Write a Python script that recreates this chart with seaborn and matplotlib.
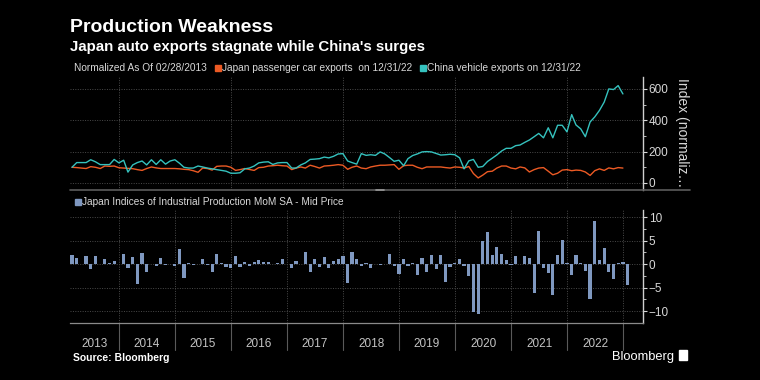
import matplotlib
matplotlib.use("Agg")
import matplotlib.pyplot as plt
import matplotlib.transforms as mtransforms
from matplotlib.patches import Rectangle
from matplotlib.lines import Line2D
import numpy as np
import pandas as pd
import seaborn as sns

# --- data ---
# month-end points, Feb 2013 .. Dec 2022, normalized to 100 at 02/28/2013
japan_cars = [100, 98, 95, 92, 104, 100, 92, 108, 106, 108, 97, 95, 93, 91, 85, 80, 92, 102, 96, 92,
              92, 92, 92, 90, 87, 85, 78, 68, 95, 92, 82, 106, 108, 108, 100, 80, 85, 92, 86, 80,
              98, 100, 108, 110, 113, 110, 108, 85, 95, 102, 95, 113, 105, 95, 108, 110, 113, 117, 113, 87,
              100, 108, 95, 91, 102, 108, 113, 113, 115, 117, 87, 110, 113, 113, 100, 91, 102, 102, 102, 102,
              98, 95, 102, 100, 95, 105, 60, 32, 50, 72, 75, 95, 108, 108, 95, 90, 102, 96, 70, 85,
              95, 98, 75, 52, 62, 82, 85, 78, 82, 80, 70, 48, 78, 90, 80, 96, 90, 98, 95]
china_vehicles = [100, 130, 130, 130, 148, 135, 117, 117, 117, 150, 128, 145, 69, 115, 130, 140, 115, 148, 118, 148,
                  120, 140, 148, 125, 100, 95, 95, 108, 102, 95, 90, 85, 80, 75, 62, 62, 65, 90, 95, 108,
                  128, 133, 135, 118, 128, 130, 130, 95, 95, 115, 128, 150, 152, 155, 165, 160, 170, 185, 187, 140,
                  130, 120, 187, 176, 180, 176, 198, 185, 162, 138, 145, 110, 155, 175, 185, 198, 200, 198, 188, 178,
                  180, 183, 180, 160, 90, 141, 150, 100, 105, 137, 158, 179, 204, 221, 221, 238, 242, 259, 274, 295,
                  316, 288, 352, 288, 368, 368, 326, 436, 370, 345, 295, 389, 421, 463, 516, 600, 596, 621, 568]
# Japan industrial production MoM %, Feb 2013 .. Jan 2023
japan_ip_mom = [1.9, 1.2, 0.1, 1.7, -1.1, 1.7, 0.1, 1.0, 0.2, 0.7, 0.1, 2.1, -0.9, 1.4, -4.3, 2.4, -1.6, 0.1, -0.4, 1.2,
                -0.2, 0.1, -0.4, 3.1, -2.9, 0.3, -0.1, 0.1, 1.0, -0.1, -1.6, 2.1, 0.3, -0.6, -0.9, 1.7, -0.7, 0.5, -0.4, 0.4,
                0.8, 0.5, 0.5, 0.1, 0.3, 1.0, 0.05, -0.9, 0.7, 0.1, 2.6, -1.6, 1.0, -0.7, 1.4, -0.9, 0.7, 1.0, 1.7, -4.1,
                2.6, 1.0, -0.4, 0.3, -0.9, 0.1, -0.1, 0.1, 2.1, -0.4, -2.2, 1.0, -0.4, 0.3, -2.3, 1.2, -1.6, 1.9, -1.0, 1.9,
                -3.9, -0.6, 0.2, 1.1, -0.4, -2.5, -10.3, -10.6, 4.9, 6.9, 2.0, 3.7, 2.1, 0.8, -0.2, 1.8, 0.1, 1.7, 1.2, -6.1,
                7.1, -0.8, -1.9, -6.5, 2.0, 5.1, 0.3, -2.3, 2.0, 0.3, -1.4, -7.5, 9.2, 0.8, 3.5, -1.7, -3.2, 0.2, 0.4, -4.5]
years = list(range(2013, 2023))
top_ticks = [0, 200, 400, 600]
bottom_ticks = [-10, -5, 0, 5, 10]

line_dates = pd.date_range("2013-03-01", periods=len(china_vehicles), freq="MS") - pd.Timedelta(days=1)
bar_dates = pd.date_range("2013-03-01", periods=len(japan_ip_mom), freq="MS") - pd.Timedelta(days=1)

lines = pd.DataFrame({
    "date": list(line_dates) * 2,
    "value": japan_cars + china_vehicles,
    "series": ["japan"] * len(japan_cars) + ["china"] * len(china_vehicles),
})

ORANGE = "#ec5a24"
TEAL = "#35c2be"
BARC = "#7f98c0"
GRID = "#4a4a4a"
TXT = "#d8d8d8"
W, H = 760, 380

sns.set_theme(style="dark")
plt.rcParams["font.family"] = ["Liberation Sans", "DejaVu Sans"]

fig = plt.figure(figsize=(7.6, 3.8), dpi=100, facecolor="black")
ax1 = fig.add_axes([70 / W, 0.5, 573 / W, 113 / H])
ax2 = fig.add_axes([70 / W, 57 / H, 573 / W, 113 / H])

xmin, xmax = pd.Timestamp("2013-02-15"), pd.Timestamp("2023-05-11")

for ax in (ax1, ax2):
    ax.set_facecolor("black")
    ax.set_xlim(xmin, xmax)
    for s in ("top", "left", "bottom"):
        ax.spines[s].set_visible(False)
    ax.spines["right"].set_color("#cfcfcf")
    ax.spines["right"].set_linewidth(1.0)
    ax.yaxis.tick_right()
    ax.tick_params(axis="y", which="major", colors=TXT, labelsize=8.5, length=3, width=0.8, pad=1,
                   right=True, left=False)
    ax.tick_params(axis="y", which="minor", colors=TXT, length=2, width=0.6, right=True, left=False)
    ax.grid(True, color=GRID, linestyle=(0, (1, 1.5)), linewidth=0.7)

# top panel: lines
sns.lineplot(data=lines, x="date", y="value", hue="series", palette={"japan": ORANGE, "china": TEAL},
             ax=ax1, legend=False, linewidth=1.0)
ax1.set_xlim(xmin, xmax)
ax1.set_ylim(-45, 676)
ax1.set_yticks(top_ticks)
ax1.set_yticks([100, 300, 500], minor=True)
ax1.set_xticks([pd.Timestamp(f"{y}-01-01") for y in range(2014, 2023, 2)])
ax1.set_xlabel("")
ax1.set_ylabel("")
ax1.tick_params(axis="x", length=0, labelbottom=False)

# bottom panel: bars
ax2.bar(bar_dates, japan_ip_mom, width=21, color=BARC, linewidth=0)
ax2.set_ylim(-12.55, 11.5)
ax2.set_yticks(bottom_ticks)
ax2.set_yticks([-7.5, -2.5, 2.5, 7.5], minor=True)
ax2.set_xticks([pd.Timestamp(f"{y}-01-01") for y in range(2014, 2024)])
ax2.tick_params(axis="x", length=0, labelbottom=False)
ax2.spines["bottom"].set_visible(True)
ax2.spines["bottom"].set_color("#8a8a8a")
ax2.spines["bottom"].set_linewidth(0.9)

# year labels and separators under the bottom panel
trans = mtransforms.blended_transform_factory(ax2.transData, ax2.transAxes)
for y in years:
    start = max(pd.Timestamp(f"{y}-01-01"), xmin)
    end = pd.Timestamp(f"{y + 1}-01-01")
    mid = start + (end - start) / 2
    ax2.text(mid, -0.19, str(y), transform=trans, ha="center", va="center", color="#c4c4c4", fontsize=8.5)
    ax2.plot([end, end], [0, -0.24], transform=trans, color="#5a5a5a", linewidth=0.8, clip_on=False)

# separator between panels, with the small drag handle in the middle
fig.add_artist(Line2D([70 / W, 690 / W], [1 - 190 / H] * 2, color="#5c5c5c", linewidth=1.2))
fig.add_artist(Line2D([376 / W, 384 / W], [1 - 190 / H] * 2, color="#9a9a9a", linewidth=1.2))

# titles
fig.text(70 / W, 1 - 27 / H, "Production Weakness", color="white", fontsize=14,
         fontweight="bold", va="center", ha="left")
fig.text(70 / W, 1 - 47 / H, "Japan auto exports stagnate while China's surges", color="white",
         fontsize=10.8, fontweight="bold", va="center", ha="left")

# legend rows, laid out from measured text widths
renderer = fig.canvas.get_renderer()


def legend_row(x, y, items, size=7.3):
    # items: list of (color or None, label)
    for color, label in items:
        if color is not None:
            fig.add_artist(Rectangle((x / W, 1 - (y + 3) / H), 6 / W, 6 / H, color=color,
                                     transform=fig.transFigure))
            x += 7
        t = fig.text(x / W, 1 - y / H, label, color=TXT, fontsize=size, va="center")
        x = t.get_window_extent(renderer).x1 + 8


legend_row(74, 68, [(None, "Normalized As Of 02/28/2013"),
                    (ORANGE, "Japan passenger car exports  on 12/31/22"),
                    (TEAL, "China vehicle exports on 12/31/22")])
legend_row(75, 202, [(BARC, "Japan Indices of Industrial Production MoM SA - Mid Price")])

# right axis label (cut off as in the source)
fig.text(682 / W, 1 - 78 / H, "Index (normaliz…", rotation=270, color=TXT, fontsize=10,
         ha="center", va="top")

# footer
fig.text(73 / W, 1 - 358 / H, "Source: Bloomberg", color="white", fontsize=7.5, fontweight="bold",
         va="center")
fig.text(612 / W, 1 - 357 / H, "Bloomberg", color="white", fontsize=9.3, va="center")
fig.add_artist(Rectangle((679 / W, 1 - 360 / H), 8 / W, 10 / H, color="white", transform=fig.transFigure))

fig.savefig("out.png", dpi=100, facecolor="black")
